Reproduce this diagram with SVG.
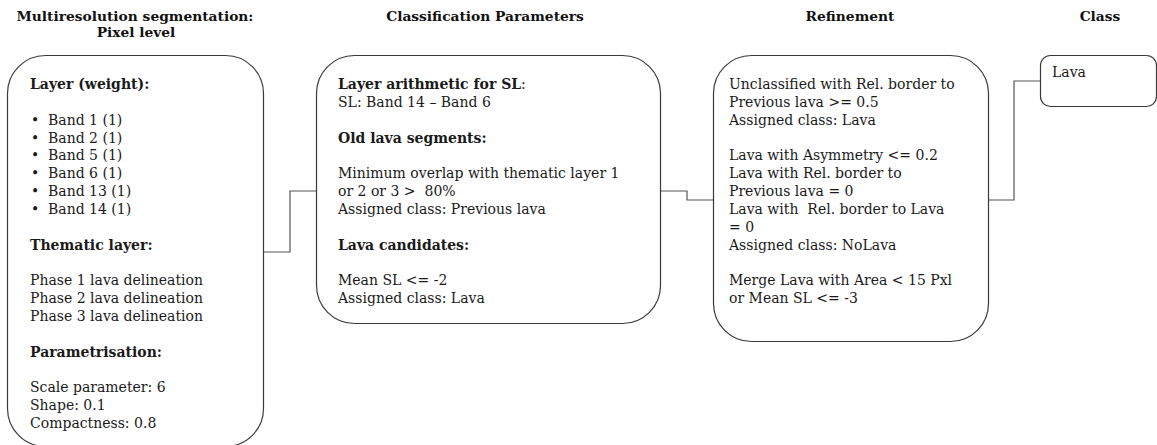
<svg xmlns="http://www.w3.org/2000/svg" width="1157" height="445" viewBox="0 0 1157 445">
<style>
.box{fill:#fff;stroke:#3a3a3a;stroke-width:1.2}
.t{font-family:"DejaVu Serif","Liberation Serif",serif;font-size:14px;fill:#1a1a1a}
.b{font-weight:bold}
.h{font-family:"DejaVu Serif","Liberation Serif",serif;font-size:13.8px;font-weight:bold;fill:#111;text-anchor:middle}
.c{fill:none;stroke:#555;stroke-width:1.2}
</style>
<rect width="1157" height="445" fill="#fff"/>
<g id="titles">
<text class="h" x="135" y="21">Multiresolution segmentation:</text>
<text class="h" x="136" y="37">Pixel level</text>
<text class="h" x="485" y="21">Classification Parameters</text>
<text class="h" x="850" y="21">Refinement</text>
<text class="h" x="1100" y="21">Class</text>
</g>
<g id="connectors">
<polyline class="c" points="263,252 290,252 290,191 316,191"/>
<polyline class="c" points="661,191 687,191 687,200 713,200"/>
<polyline class="c" points="988,200 1014,200 1014,81 1040,81"/>
</g>
<g id="node-segmentation">
<rect class="box" x="7.5" y="55.5" width="256" height="391" rx="38" ry="38"/>
<text class="t b" x="30" y="89">Layer (weight):</text>
<g class="t">
<text x="31" y="124.7">•</text><text x="48" y="124.7">Band 1 (1)</text>
<text x="31" y="142.5">•</text><text x="48" y="142.5">Band 2 (1)</text>
<text x="31" y="160.4">•</text><text x="48" y="160.4">Band 5 (1)</text>
<text x="31" y="178.2">•</text><text x="48" y="178.2">Band 6 (1)</text>
<text x="31" y="196.1">•</text><text x="48" y="196.1">Band 13 (1)</text>
<text x="31" y="213.9">•</text><text x="48" y="213.9">Band 14 (1)</text>
</g>
<text class="t b" x="30" y="249.6">Thematic layer:</text>
<text class="t" x="30" y="285.3">Phase 1 lava delineation</text>
<text class="t" x="30" y="303.2">Phase 2 lava delineation</text>
<text class="t" x="30" y="321">Phase 3 lava delineation</text>
<text class="t b" x="30" y="356.7">Parametrisation:</text>
<text class="t" x="30" y="392.4">Scale parameter: 6</text>
<text class="t" x="30" y="410.3">Shape: 0.1</text>
<text class="t" x="30" y="428.1">Compactness: 0.8</text>
</g>
<g id="node-classification">
<rect class="box" x="316.5" y="55.5" width="344" height="268" rx="38" ry="38"/>
<text class="t" x="338" y="89"><tspan class="b">Layer arithmetic for SL</tspan>:</text>
<text class="t" x="338" y="106.8">SL: Band 14 – Band 6</text>
<text class="t b" x="338" y="142.5">Old lava segments:</text>
<text class="t" x="338" y="178.2">Minimum overlap with thematic layer 1</text>
<text class="t" x="338" y="196.1" xml:space="preserve">or 2 or 3 &gt;  80%</text>
<text class="t" x="338" y="213.9">Assigned class: Previous lava</text>
<text class="t b" x="338" y="249.6">Lava candidates:</text>
<text class="t" x="338" y="285.3">Mean SL &lt;= -2</text>
<text class="t" x="338" y="303.2">Assigned class: Lava</text>
</g>
<g id="node-refinement">
<rect class="box" x="713.5" y="55.5" width="275" height="286" rx="38" ry="38"/>
<g class="t">
<text x="729" y="89">Unclassified with Rel. border to</text>
<text x="729" y="106.8">Previous lava &gt;= 0.5</text>
<text x="729" y="124.7">Assigned class: Lava</text>
<text x="729" y="160.4">Lava with Asymmetry &lt;= 0.2</text>
<text x="729" y="178.2">Lava with Rel. border to</text>
<text x="729" y="196.1">Previous lava = 0</text>
<text x="729" y="213.9" xml:space="preserve">Lava with  Rel. border to Lava</text>
<text x="729" y="231.8">= 0</text>
<text x="729" y="249.6">Assigned class: NoLava</text>
<text x="729" y="285.3">Merge Lava with Area &lt; 15 Pxl</text>
<text x="729" y="303.2">or Mean SL &lt;= -3</text>
</g>
</g>
<g id="node-class">
<rect class="box" x="1040.5" y="55.5" width="116" height="51" rx="10" ry="10"/>
<text class="t" x="1052" y="77">Lava</text>
</g>
</svg>
